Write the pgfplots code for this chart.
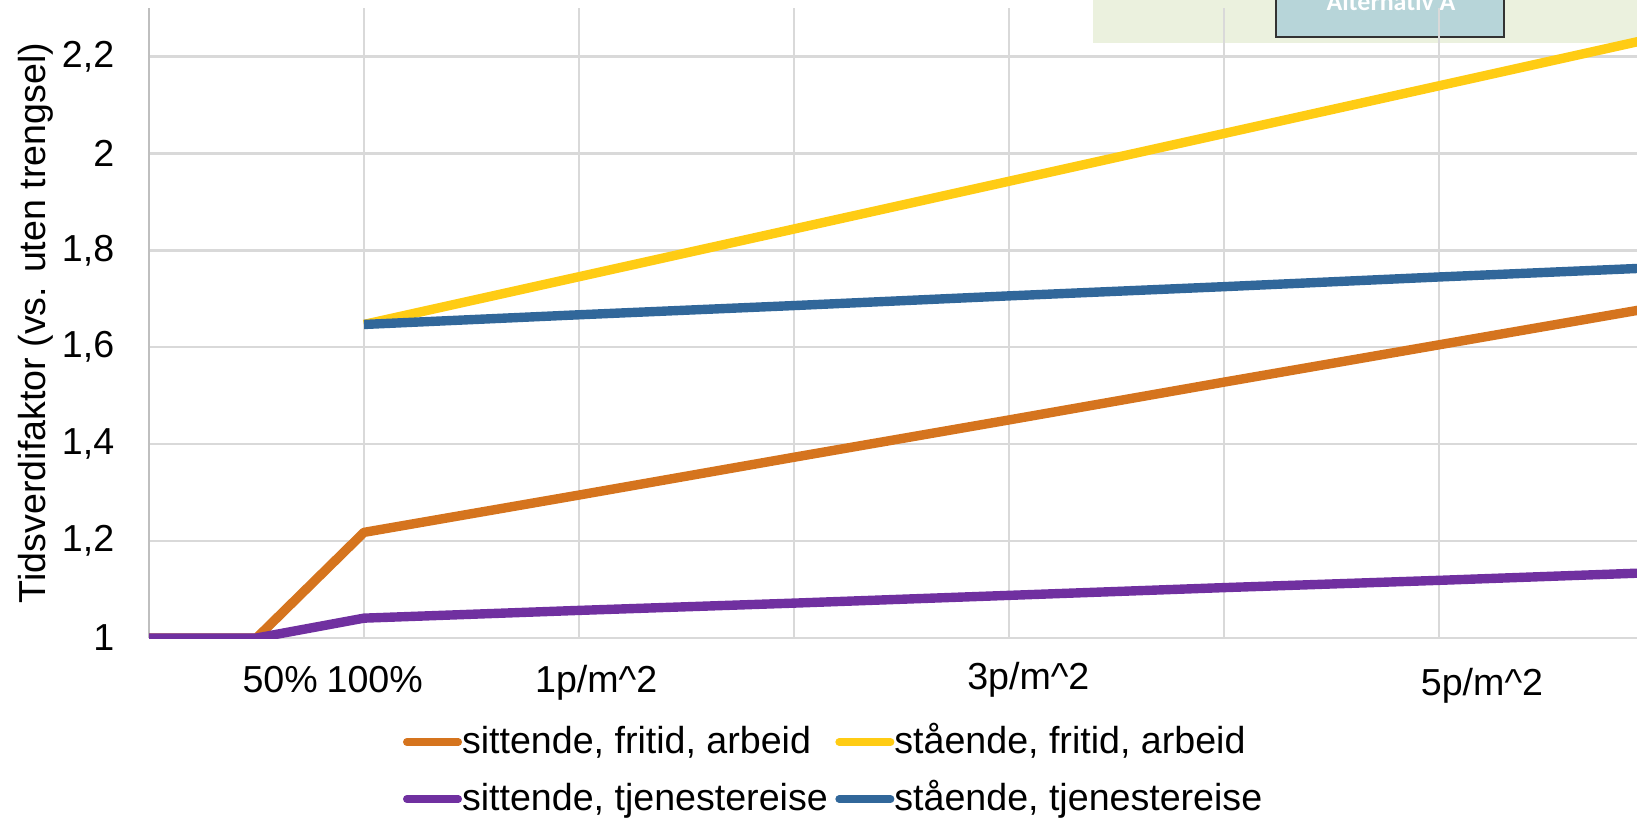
\documentclass[border=0pt]{standalone}
\usepackage{fontspec}
\setmainfont{Liberation Sans}
\newfontfamily\carlito{Carlito}
\usepackage{pgfplots}
\pgfplotsset{compat=1.18}
\definecolor{cOrange}{HTML}{D5741E}
\definecolor{cYellow}{HTML}{FFCC14}
\definecolor{cPurple}{HTML}{7030A0}
\definecolor{cBlue}{HTML}{31679A}
\definecolor{cGrid}{HTML}{D9D9D9}
\definecolor{cAxis}{HTML}{BFBFBF}
\definecolor{cGreen}{HTML}{EBF1DE}
\definecolor{cTeal}{HTML}{B7D5D9}
\begin{document}
\fontsize{9.4pt}{11.3pt}\selectfont
\begin{tikzpicture}
\fill[cGreen] (236pt,148.75pt) rectangle (380pt,170pt);
\filldraw[fill=cTeal, draw=black!80, line width=0.5pt] (281.75pt,150.25pt) rectangle (338.75pt,175pt);
\node[anchor=base, text=white, font=\carlito\bfseries\fontsize{6.5pt}{7pt}\selectfont, inner sep=0pt] at (310.5pt,157pt) {Alternativ A};
\begin{axis}[
  at={(0pt,0pt)}, anchor=south west,
  scale only axis, width=372pt, height=157.5pt,
  xmin=0, xmax=6.921, ymin=1, ymax=2.3,
  axis lines*=left,
  x axis line style={cGrid, line width=0.6pt},
  y axis line style={cAxis, line width=0.6pt},
  xtick={0,1,2,3,4,5,6}, xticklabels={},
  ytick={1,1.2,1.4,1.6,1.8,2,2.2},
  grid=major, grid style={cGrid, line width=0.6pt},
  major tick length=0pt,
  /pgf/number format/use comma,
  /pgf/number format/assume math mode=true,
  yticklabel style={anchor=east, inner sep=0pt, xshift=-8.5pt},
  xticklabel style={anchor=base, inner sep=0pt, yshift=-13.5pt},
  extra x ticks={0.61,1.05,2.08,4.09,6.2},
  extra x tick labels={50\%,100\%,1p/m\textasciicircum2,\raisebox{0.75pt}{3p/m\textasciicircum2},\raisebox{-0.75pt}{5p/m\textasciicircum2}},
  extra x tick style={grid=none, major tick length=0pt},
  ylabel={Tidsverdifaktor (vs. uten trengsel)},
  every axis y label/.style={at={(axis description cs:-0.0759,0.5)}, rotate=90, anchor=center},
  legend columns=2,
  legend style={at={(axis description cs:0.1656,-0.1381)}, anchor=north west, draw=none, fill=none, inner sep=0pt, outer sep=0pt, row sep=4.75pt, column sep=0pt, nodes={inner sep=0pt, text height=7pt, text depth=2.5pt}},
  legend cell align=left,
  legend image code/.code={\path[draw=none,fill=none] (0pt,-2pt) rectangle (16.6pt,2pt); \draw[#1, line width=1.9pt, line cap=round] (2.85pt,0.5pt) -- (15.7pt,0.5pt);},
  every axis plot/.append style={line width=2.35pt, line join=round},
]
\addplot[cOrange] coordinates {(0,1) (0.5,1) (1,1.218) (2,1.295) (3,1.373) (4,1.450) (5,1.528) (6,1.605) (7,1.682)};
\addlegendentry{sittende, fritid, arbeid}
\addplot[cYellow] coordinates {(1,1.647) (2,1.7455) (3,1.844) (4,1.9425) (5,2.041) (6,2.1395) (7,2.238)};
\addlegendentry{stående, fritid, arbeid}
\addplot[cPurple] coordinates {(0,1) (0.5,1) (1,1.041) (2,1.057) (3,1.072) (4,1.088) (5,1.104) (6,1.119) (7,1.135)};
\addlegendentry{sittende, tjenestereise}
\addplot[cBlue] coordinates {(1,1.647) (2,1.667) (3,1.686) (4,1.706) (5,1.725) (6,1.745) (7,1.764)};
\addlegendentry{stående, tjenestereise}
\end{axis}
\pgfresetboundingbox
\useasboundingbox (-37.25pt,-45pt) rectangle (372pt,159.5pt);
\end{tikzpicture}
\end{document}
